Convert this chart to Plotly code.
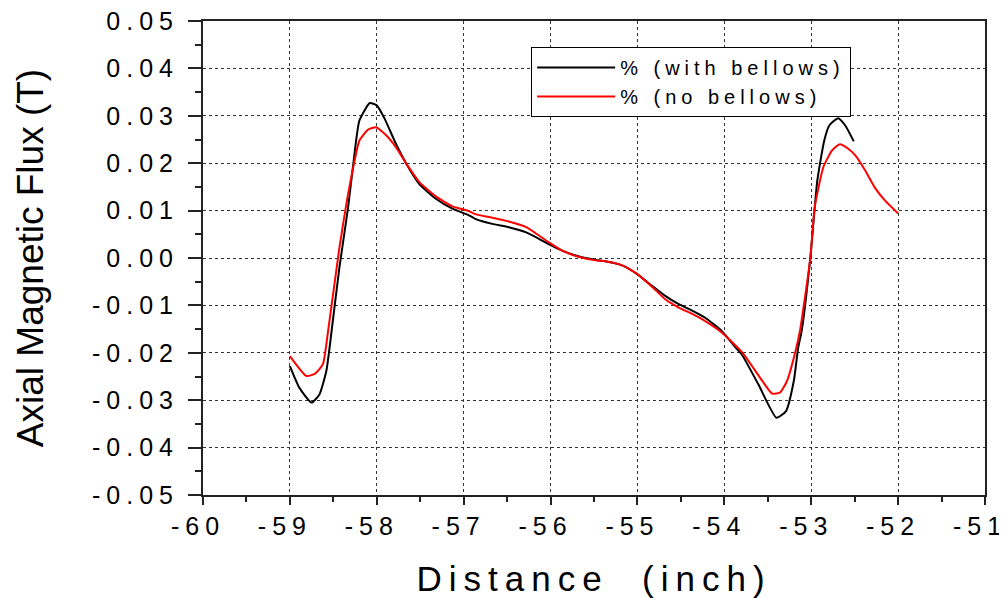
import plotly.graph_objects as go

# distance (inch) and axial flux (T)
X_WITH = [-59.0, -58.89, -58.75, -58.66, -58.58, -58.52, -58.43, -58.33, -58.27, -58.20,
          -58.08, -58.0, -57.91, -57.78, -57.66, -57.51, -57.32, -57.13, -56.94, -56.86,
          -56.67, -56.48, -56.28, -56.13, -56.01, -55.86, -55.67, -55.48, -55.37, -55.17,
          -55.01, -54.83, -54.68, -54.53, -54.37, -54.22, -54.03, -53.87, -53.80, -53.61,
          -53.40, -53.29, -53.20, -53.15, -53.11, -53.01, -52.93, -52.85, -52.79, -52.69,
          -52.61, -52.51]
Y_WITH = [-0.0228, -0.0274, -0.0305, -0.0288, -0.0238, -0.0154, -0.0020, 0.0107, 0.0199, 0.0290,
          0.0327, 0.0322, 0.0294, 0.0241, 0.0199, 0.0156, 0.0125, 0.0104, 0.0090, 0.0082,
          0.0072, 0.0065, 0.0054, 0.0040, 0.0028, 0.0015, 0.0003, -0.0004, -0.0007, -0.0016,
          -0.0033, -0.0059, -0.0080, -0.0097, -0.0111, -0.0126, -0.0154, -0.0189, -0.0203, -0.0266,
          -0.0337, -0.0323, -0.0259, -0.0189, -0.0154, 0.0001, 0.0163, 0.0248, 0.0280, 0.0295,
          0.0280, 0.0246]

X_NO = [-59.0, -58.81, -58.71, -58.62, -58.56, -58.43, -58.35, -58.27, -58.20, -58.10,
        -58.01, -57.91, -57.78, -57.66, -57.51, -57.32, -57.13, -56.94, -56.86, -56.67,
        -56.48, -56.28, -56.13, -56.01, -55.86, -55.67, -55.48, -55.37, -55.17, -55.01,
        -54.83, -54.68, -54.53, -54.37, -54.22, -54.03, -53.79, -53.56, -53.45, -53.36,
        -53.28, -53.18, -53.13, -53.01, -52.96, -52.86, -52.76, -52.67, -52.57, -52.49,
        -52.38, -52.27, -52.15, -52.0]
Y_NO = [-0.0207, -0.0249, -0.0244, -0.0224, -0.0154, 0.0022, 0.0114, 0.0192, 0.0248, 0.0271,
        0.0276, 0.0262, 0.0234, 0.0199, 0.0160, 0.0130, 0.0109, 0.0099, 0.0092, 0.0085,
        0.0077, 0.0065, 0.0047, 0.0032, 0.0015, 0.0002, -0.0005, -0.0007, -0.0016, -0.0033,
        -0.0061, -0.0087, -0.0104, -0.0118, -0.0133, -0.0157, -0.0200, -0.0260, -0.0286, -0.0284,
        -0.0260, -0.0196, -0.0154, 0.0000, 0.0107, 0.0192, 0.0227, 0.0240, 0.0230, 0.0216,
        0.0185, 0.0149, 0.0121, 0.0094]

X_TICKS = [-60, -59, -58, -57, -56, -55, -54, -53, -52, -51]
X_LABELS = ["-60", "-59", "-58", "-57", "-56", "-55", "-54", "-53", "-52", "-51"]
Y_TICKS = [0.05, 0.04, 0.03, 0.02, 0.01, 0.0, -0.01, -0.02, -0.03, -0.04, -0.05]
Y_LABELS = ["0.05", "0.04", "0.03", "0.02", "0.01", "0.00",
            "-0.01", "-0.02", "-0.03", "-0.04", "-0.05"]
NAMES = ["% (with bellows)", "% (no bellows)"]

FONT = "Liberation Sans, Arial, sans-serif"
AXIS = "#222222"


def spaced(text, px):
    """The original draws its text with wide letter spacing."""
    return f"<span style='letter-spacing:{px}px'>{text}</span>"


fig = go.Figure()
fig.add_scatter(x=X_WITH, y=Y_WITH, mode="lines", name=spaced(NAMES[0], 5),
                line={"color": "#000000", "width": 2, "shape": "spline", "smoothing": 0.5})
fig.add_scatter(x=X_NO, y=Y_NO, mode="lines", name=spaced(NAMES[1], 5),
                line={"color": "#ff0000", "width": 2, "shape": "spline", "smoothing": 0.5})

# page body keeps its 8px default margin, so the figure is sized to fit the window
fig.update_layout(
    width=999,
    height=590,
    paper_bgcolor="white",
    plot_bgcolor="white",
    font={"family": FONT, "color": "black", "size": 22},
    margin={"l": 195, "r": 22, "t": 13, "b": 103},
    showlegend=True,
    legend={
        "x": 0.4196, "y": 0.945, "xanchor": "left", "yanchor": "top",
        "bgcolor": "white", "bordercolor": "black", "borderwidth": 1,
        "font": {"size": 20, "family": FONT}, "itemwidth": 78,
        "tracegroupgap": 0,
    },
)
fig.update_xaxes(
    range=[-60, -51], automargin=False, ticklabeloverflow="allow",
    tickmode="array", tickvals=X_TICKS, ticktext=[spaced(t, 6) for t in X_LABELS],
    ticks="outside", ticklen=8, tickwidth=2, tickcolor=AXIS,
    tickfont={"size": 25}, ticklabelshift=-5,
    minor={"dtick": 0.5, "ticks": "outside", "ticklen": 5, "tickwidth": 2,
           "tickcolor": AXIS, "showgrid": False},
    showline=True, linecolor=AXIS, linewidth=2, mirror=True,
    showgrid=True, gridcolor="#333333", gridwidth=1, griddash="dot",
    zeroline=False,
    title={"text": spaced("Distance  (inch)", 7), "font": {"size": 35}, "standoff": 28},
)
fig.update_yaxes(
    range=[-0.05, 0.05], automargin=False, ticklabeloverflow="allow",
    tickmode="array", tickvals=Y_TICKS, ticktext=[spaced(t, 6) for t in Y_LABELS],
    ticks="outside", ticklen=13, tickwidth=2, tickcolor=AXIS,
    tickfont={"size": 25}, ticklabelstandoff=4,
    minor={"dtick": 0.005, "ticks": "outside", "ticklen": 6, "tickwidth": 2,
           "tickcolor": AXIS, "showgrid": False},
    showline=True, linecolor=AXIS, linewidth=2, mirror=True,
    showgrid=True, gridcolor="#333333", gridwidth=1, griddash="dot",
    zeroline=False,
    title={"text": "Axial Magnetic Flux (T)", "font": {"size": 37}, "standoff": 37},
)

fig.write_html("out.html")
